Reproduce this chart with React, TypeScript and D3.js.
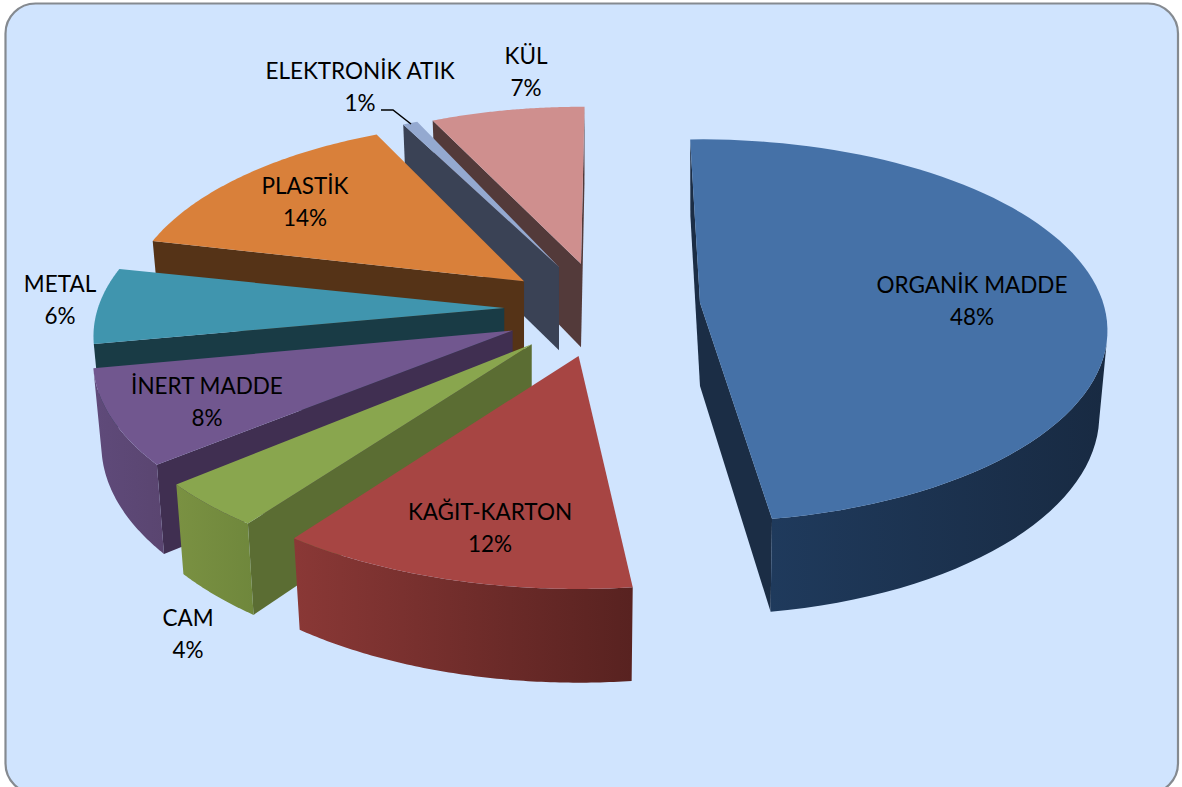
import React from "react";
import * as d3 from "d3";

const categories = ["ORGANİK MADDE", "KAĞIT-KARTON", "CAM", "İNERT MADDE", "METAL", "PLASTİK", "ELEKTRONİK ATIK", "KÜL"];
const shares = [48.0, 11.7, 3.7, 7.8, 6.4, 14.4, 0.7, 7.3];
const topColors = ["#4571a7", "#a74543", "#89a64e", "#71578f", "#4095ae", "#d9803a", "#94a9d0", "#cf8f8e"];
const cutColors = ["#1b2d45", "#4a1f1e", "#5b6d33", "#402f51", "#193b45", "#553317", "#3a4255", "#533a3a"];
const wallLeft = ["#1f3a5c", "#8a3836", "#7a9142", "#5f4a7a", "#2f6f82", "#8a5426", "#5a6a88", "#8a5a5a"];
const wallRight = ["#182a42", "#582220", "#6f873c", "#5a4570", "#275e6e", "#6d4120", "#4a5870", "#6d4848"];
const labelAnchors = [
  { x: 972, y: 284 }, { x: 490, y: 511 }, { x: 188, y: 617 }, { x: 207, y: 385 },
  { x: 60, y: 283 }, { x: 305, y: 185 }, { x: 360, y: 70 }, { x: 526, y: 55 },
];
// Layout: the source's 3D camera turns and shifts each exploded slice slightly
const sliceTurnDeg = [0, 2.6, 3, 4.3, 4.6, 5.4, 3.5, 2.2];
const sliceShiftX = [-4, -2, -4, 0, 3, 4, 4, 3];
const sliceShiftY = [0, 1, 0, 0, -2, 0, 0, 1];

const W = 1182, H = 787;
const CX = 603, CY = 307, RX = 407, RY = 189, PERSP = 0.147, DEPTH = 85, SHRINK = 0.98, EXPLODE = 0.25;
const START = (-1.6 * Math.PI) / 180;

function disc(theta: number, r: number) {
  const u = r * Math.sin(theta);
  const v = -r * Math.cos(theta);
  const w = 1 / (1 - PERSP * v);
  return { x: RX * u * w, y: RY * v * w, w };
}
function project(theta: number, r: number, mid: number, bottom: boolean, i: number): [number, number] {
  const nearness = 0.995 - 0.05 * Math.cos(mid);
  const d = disc(theta, r * nearness);
  const o = disc(mid, EXPLODE);
  const ax = CX + o.x + sliceShiftX[i], ay = CY + o.y + sliceShiftY[i];
  return bottom
    ? [ax + d.x * SHRINK, ay + (d.y + DEPTH * d.w) * SHRINK]
    : [ax + d.x, ay + d.y];
}
const line = d3.line();
const closed = (p: [number, number][]) => line(p) + "Z";
const facing = (p: [number, number][]) => d3.polygonArea(p) > 0;

const pie = d3.pie<number>().sort(null).startAngle(START).endAngle(START + 2 * Math.PI);
const arcs = pie(shares);
const order = [7, 6, 5, 4, 3, 2, 1, 0];

export default function App() {
  return (
    <svg width={W} height={H} style={{ position: "absolute", left: 0, top: 0 }} fontFamily="Lato, 'Open Sans', sans-serif">
      <defs>
        {arcs.map((_, i) => (
          <linearGradient key={i} id={`wall${i}`} x1="0" x2="1" y1="0" y2="0">
            <stop offset="0" stopColor={wallLeft[i]} />
            <stop offset="1" stopColor={wallRight[i]} />
          </linearGradient>
        ))}
      </defs>
      <rect x={5.5} y={3.5} width={1172.5} height={790} rx={30} fill="#d0e4fe" stroke="#858a90" strokeWidth={2.2} />
      {order.map((i) => {
        const a = arcs[i];
        const mid = (a.startAngle + a.endAngle) / 2;
        const turn = (sliceTurnDeg[i] * Math.PI) / 180;
        const thetas = d3.range(0, 81).map((k) => a.startAngle + turn + ((a.endAngle - a.startAngle) * k) / 80);
        const rimTop = thetas.map((t) => project(t, 1, mid, false, i));
        const rimBot = thetas.map((t) => project(t, 1, mid, true, i));
        const apexT = project(0, 0, mid, false, i), apexB = project(0, 0, mid, true, i);
        const startQuad: [number, number][] = [apexT, rimTop[0], rimBot[0], apexB];
        const endQuad: [number, number][] = [rimTop[80], apexT, apexB, rimBot[80]];
        const vis = d3.range(0, 80).filter((k) => d3.polygonArea([rimTop[k], rimTop[k + 1], rimBot[k + 1], rimBot[k]]) > 0);
        const wallPts: [number, number][] = vis.length
          ? [...d3.range(vis[0], vis[vis.length - 1] + 2).map((k) => rimTop[k]), ...d3.range(vis[vis.length - 1] + 1, vis[0] - 1, -1).map((k) => rimBot[k])]
          : [];
        return (
          <g key={i}>
            {facing(startQuad) && <path d={closed(startQuad)} fill={cutColors[i]} />}
            {facing(endQuad) && <path d={closed(endQuad)} fill={cutColors[i]} />}
            {wallPts.length > 0 && <path d={closed(wallPts)} fill={`url(#wall${i})`} />}
            <path d={closed([apexT, ...rimTop])} fill={topColors[i]} />
          </g>
        );
      })}
      <path d={line([[381, 110], [393, 110], [411, 124]])!} fill="none" stroke="#000" strokeWidth={1.5} />
      {categories.map((c, i) => (
        <text key={c} textAnchor="middle" fontSize={22.5} fill="#000">
          <tspan x={labelAnchors[i].x} y={labelAnchors[i].y + 9}>{c}</tspan>
          <tspan x={labelAnchors[i].x} y={labelAnchors[i].y + 41}>{d3.format(".0f")(shares[i])}%</tspan>
        </text>
      ))}
    </svg>
  );
}
